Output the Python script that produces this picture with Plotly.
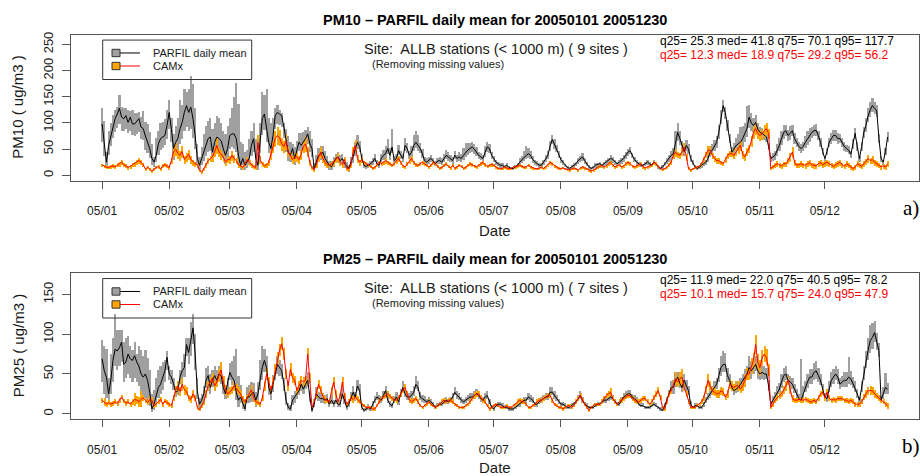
import numpy as np
import pandas as pd
import plotly.graph_objects as go

W, H = 920, 476
START = "2005-01-01"
FONT = "Liberation Sans"

month_ticks = ["2005-%02d-01" % m for m in range(1, 13)]
month_labels = ["05/01", "05/02", "05/03", "05/04", "05/05", "05/06",
                "05/07", "05/08", "05/09", "05/10", "05/11", "05/12"]

# ---------------- PM10 : observed (PARFIL) daily mean --------------------
pm10_obs = [
    98,63,25,57,76,95,108,117,128,111,108,114,101,111,98,98,104,108,92,89,75,63,51,32,25,38,60,70,73,76,95,
    120,89,51,63,70,89,101,120,133,120,130,108,76,32,19,32,44,57,70,73,44,63,73,70,66,51,38,51,
    76,79,79,70,38,19,32,19,25,32,57,70,32,19,63,108,117,89,63,51,76,114,120,117,114,92,63,44,38,51,32,
    47,63,57,63,70,79,60,51,13,25,38,41,44,32,25,19,16,25,32,35,28,32,22,18,13,25,35,50,63,55,
    32,19,17,19,22,25,32,22,19,32,38,41,51,38,54,28,32,47,38,32,57,51,38,44,57,63,57,51,41,28,25,
    28,32,27,22,27,28,25,32,38,35,32,28,38,32,35,32,38,44,48,51,54,50,44,38,35,32,44,54,51,38,
    32,25,22,19,19,16,19,15,13,13,16,19,25,30,35,38,41,38,30,25,22,19,19,25,32,38,55,68,60,51,40,
    30,25,19,15,13,16,19,22,28,32,35,28,22,16,13,15,19,20,22,19,22,25,28,32,30,25,22,25,28,32,38,
    44,47,38,30,25,22,19,19,22,25,22,19,25,22,16,13,16,22,28,32,38,41,60,82,70,55,45,57,50,32,
    25,16,13,15,19,22,25,32,44,48,57,63,82,110,133,120,95,70,44,50,57,60,63,70,80,89,111,100,95,101,88,
    82,80,76,73,55,32,35,38,48,57,70,82,85,76,80,85,70,63,55,51,55,63,70,76,82,85,86,76,63,45,
    32,45,63,70,76,76,70,70,62,55,51,48,40,60,80,55,32,55,82,95,114,125,133,128,123,70,32,25,45,73,
]
# extent of the grey bar above the mean
pm10_obs_up = [
    32,42,20,28,25,22,18,15,27,20,22,16,25,12,27,22,16,14,20,35,28,35,32,28,10,35,25,30,30,32,30,
    25,21,29,32,40,56,34,45,27,45,60,67,54,28,16,23,36,38,35,37,46,37,42,40,34,34,42,44,
    34,51,71,107,100,46,28,26,25,38,28,30,38,26,37,52,38,77,47,49,34,16,15,8,6,8,27,31,27,9,23,
    20,18,25,20,18,15,25,20,12,15,15,15,12,15,12,10,12,10,10,10,12,10,10,8,8,10,12,15,15,12,
    10,6,6,6,6,8,10,8,8,10,12,15,20,15,35,10,10,12,10,10,15,12,10,12,20,22,20,12,10,8,8,
    8,8,6,6,6,8,8,10,12,10,8,8,10,8,10,10,15,18,15,12,10,10,10,8,8,8,12,10,10,8,
    6,6,5,5,5,4,5,4,4,4,5,6,8,8,12,18,12,10,8,6,6,5,5,6,8,10,12,10,10,8,8,
    6,5,4,4,3,4,5,5,6,6,8,6,5,4,3,4,5,5,5,4,5,6,6,8,6,5,5,6,6,8,8,
    8,8,6,5,5,4,4,4,5,5,4,4,5,4,3,3,4,5,6,8,10,12,25,18,15,12,10,12,10,8,
    5,4,3,4,5,6,6,8,10,12,12,12,15,15,12,12,12,10,10,12,15,20,30,25,20,45,25,20,15,15,12,
    12,12,10,10,8,6,8,10,12,15,15,15,12,12,15,12,12,10,10,10,10,12,15,15,12,12,12,10,10,8,
    6,8,10,12,12,12,12,10,10,10,8,8,8,10,12,10,6,10,12,15,15,15,15,12,12,10,6,5,8,10,
]
# extent of the grey bar below the mean
pm10_obs_dn = [
    33,25,10,18,20,22,25,25,30,25,22,25,20,25,20,22,25,25,22,20,25,20,18,12,8,12,20,20,20,18,25,
    30,25,20,20,22,28,30,35,40,35,40,35,25,12,8,12,15,20,25,25,18,20,25,22,20,18,15,18,
    25,25,28,25,18,8,12,8,10,12,20,25,15,8,20,30,30,25,20,18,20,25,22,20,20,20,18,15,12,15,12,
    12,15,15,12,15,18,15,15,5,8,10,10,10,8,8,8,6,8,8,10,8,8,8,6,5,8,10,12,12,10,
    6,4,4,4,5,5,6,5,5,6,8,8,10,8,10,6,6,8,6,6,10,8,6,8,10,10,10,8,8,6,5,
    5,5,4,4,5,5,5,6,6,6,5,5,6,5,6,6,8,8,8,8,8,8,6,6,5,5,8,8,8,6,
    5,4,4,4,4,3,4,3,3,3,4,4,5,5,6,6,8,6,6,5,4,4,4,5,6,6,8,8,8,6,6,
    5,4,3,3,3,3,4,4,5,5,6,5,4,3,3,3,4,4,4,4,4,5,5,6,5,4,4,5,5,6,6,
    6,6,5,4,4,3,3,3,4,4,3,3,4,3,3,3,3,4,5,6,8,8,12,15,12,10,8,10,8,6,
    4,3,3,3,4,4,5,6,8,8,10,10,12,12,12,12,10,8,8,8,10,12,15,15,15,15,20,15,12,12,10,
    10,10,8,8,6,5,6,8,10,10,12,12,10,10,12,10,10,8,8,8,8,10,12,12,10,10,10,8,8,6,
    5,6,8,10,10,10,10,8,8,8,6,6,6,8,10,8,5,8,10,12,12,12,12,10,10,8,5,4,6,8,
]
# ---------------- PM10 : CAMx daily mean and spread ----------------------
pm10_mod = [
    20,18,15,15,17,18,16,20,22,25,20,18,15,17,20,22,25,28,25,20,12,15,12,8,12,15,17,12,18,20,18,
    15,28,45,50,42,38,45,30,35,40,30,25,22,20,10,6,12,20,28,32,35,45,57,45,40,35,25,30,
    30,38,32,28,20,18,15,22,30,25,20,16,15,63,30,22,18,20,25,40,55,70,76,72,60,55,65,45,38,30,35,
    35,30,40,55,60,45,25,15,10,20,35,44,32,25,20,19,22,25,30,35,25,20,30,13,12,20,45,57,32,25,
    30,25,22,20,18,13,15,20,25,22,25,28,25,22,19,22,28,32,25,18,16,22,28,32,25,20,19,22,25,22,19,
    16,19,25,22,18,13,15,19,22,17,14,19,13,16,19,17,13,15,19,22,20,18,16,19,22,25,20,17,19,21,
    19,16,13,12,13,16,14,12,13,16,16,18,19,17,15,16,19,16,14,13,12,13,15,13,16,20,25,22,18,15,13,
    13,14,12,11,10,12,14,12,10,14,16,14,12,10,8,10,13,15,17,19,16,18,22,25,20,16,18,20,16,18,22,
    25,22,18,16,18,20,22,16,14,16,18,20,25,22,18,13,11,13,15,20,25,38,44,40,38,45,54,35,13,10,
    12,15,16,18,22,30,40,48,48,38,32,28,28,25,22,30,38,41,41,38,45,50,57,40,35,45,51,65,82,89,80,
    76,79,85,89,80,13,16,19,22,20,18,22,22,28,35,44,25,19,20,22,20,19,22,24,20,19,18,22,24,20,
    22,25,22,19,17,20,22,25,20,17,22,19,16,13,15,22,20,17,22,26,32,28,30,25,22,19,16,18,16,22,
]
pm10_mod_sp = [
    3,3,3,3,4,4,4,4,5,5,4,4,4,4,4,5,5,6,5,4,3,3,3,3,3,3,4,3,4,4,4,
    4,6,10,12,10,10,12,8,8,10,8,6,5,5,3,3,3,5,6,6,8,10,15,10,10,8,6,6,
    8,10,8,6,5,4,4,5,6,6,5,4,4,15,8,5,4,5,6,10,12,15,18,15,12,12,15,10,8,8,8,
    8,8,10,12,15,10,6,4,3,5,8,10,8,6,5,5,5,6,6,8,6,5,6,4,3,5,10,12,8,6,
    5,4,4,3,3,3,3,4,4,4,4,5,4,4,3,4,5,5,4,3,3,4,5,5,4,4,3,4,4,4,3,
    3,3,4,4,3,3,3,3,4,3,3,3,3,3,3,3,3,3,3,4,4,3,3,3,4,4,4,3,3,4,
    3,3,3,2,2,3,3,2,2,3,3,3,3,3,3,3,3,3,3,2,2,2,3,2,3,3,4,4,3,3,3,
    2,2,2,2,2,2,3,2,2,3,3,3,2,2,2,2,2,3,3,3,3,3,4,4,3,3,3,3,3,3,4,
    4,4,3,3,3,3,4,3,3,3,3,3,4,4,3,2,2,2,3,4,5,6,8,6,6,8,8,6,3,2,
    2,3,3,3,4,5,6,8,8,6,5,5,5,4,4,5,6,6,6,6,8,8,10,8,6,8,8,10,12,12,10,
    10,10,12,12,10,3,4,5,6,5,5,5,5,6,8,10,6,5,5,6,5,6,6,6,5,6,5,6,6,6,
    6,6,6,5,5,6,6,6,5,5,6,5,5,4,5,6,5,5,6,6,8,6,8,6,6,5,5,5,5,6,
]

# ---------------- PM25 : observed (PARFIL) daily mean --------------------
pm25_obs = [
    69,54,46,25,42,67,81,79,83,90,62,65,75,69,67,73,65,60,50,46,50,42,27,6,12,21,33,37,46,54,71,
    50,46,38,27,29,46,54,58,87,77,92,108,75,29,12,17,25,42,48,33,42,48,42,50,48,33,25,37,
    52,46,42,27,17,21,12,6,21,21,25,27,17,25,42,58,67,58,33,25,37,52,62,58,54,37,17,8,6,17,21,
    25,29,37,31,37,42,21,4,12,25,21,19,19,17,19,12,17,12,17,12,12,25,17,8,12,21,27,21,35,29,
    8,4,6,8,6,12,17,21,19,17,23,29,17,12,10,17,21,15,25,33,25,21,21,23,27,37,33,21,19,17,15,
    17,15,12,8,10,12,12,15,17,15,17,21,27,23,21,17,15,17,19,21,21,23,25,23,19,17,21,23,15,8,
    6,10,12,12,10,8,8,6,6,6,8,10,12,15,17,17,21,19,17,12,12,15,17,19,21,21,27,27,23,19,15,
    12,12,10,8,8,10,12,15,19,23,17,12,10,8,8,8,10,12,12,15,17,17,19,21,19,15,12,12,17,21,23,
    25,25,21,19,17,12,10,10,8,8,8,10,12,10,8,6,4,10,17,25,33,33,42,46,38,33,42,35,29,12,
    8,10,10,8,8,12,17,21,25,29,33,37,48,58,62,62,48,42,33,29,31,33,37,42,46,50,58,54,58,62,54,
    50,52,50,50,35,12,17,21,27,31,40,48,50,42,40,37,31,25,19,17,25,33,40,46,46,52,54,48,42,31,
    21,19,33,42,46,50,46,37,40,42,42,46,44,38,33,25,17,33,50,67,80,92,96,102,90,79,17,25,33,31,
]
pm25_obs_up = [
    24,31,36,20,33,28,44,26,22,15,28,30,23,16,13,17,10,25,30,26,30,28,28,19,18,24,22,23,19,14,8,
    10,9,7,8,11,9,11,17,8,18,23,17,25,16,8,8,10,16,12,17,13,12,13,10,10,12,10,8,
    12,20,30,55,30,15,10,8,12,15,15,12,10,15,25,27,15,15,12,10,12,10,10,10,8,8,10,6,5,6,8,
    8,8,10,8,8,10,8,4,6,8,6,6,6,6,6,5,6,5,6,5,5,8,6,4,5,6,8,6,8,8,
    4,3,3,4,3,4,5,6,5,5,6,6,5,4,4,5,6,5,6,8,6,5,5,6,8,10,8,6,5,5,4,
    4,4,3,3,3,3,3,4,4,4,4,5,6,5,5,4,4,4,4,5,5,5,6,5,5,4,5,5,4,3,
    3,3,3,3,3,3,3,2,2,2,3,3,3,4,4,4,5,5,4,3,3,4,4,4,5,5,6,6,5,4,4,
    3,3,3,2,2,3,3,4,4,5,4,3,3,2,2,2,3,3,3,4,4,4,4,5,4,4,3,3,4,5,5,
    5,5,4,4,4,3,3,3,2,2,2,3,3,3,2,2,2,3,4,5,8,10,10,6,8,8,8,8,6,4,
    2,3,3,2,2,3,4,5,6,6,8,8,10,15,17,15,10,8,6,6,6,8,8,8,10,10,15,12,10,10,10,
    10,10,10,8,8,4,5,6,8,8,10,10,10,8,8,8,6,6,6,52,10,8,10,10,10,12,12,10,8,6,
    5,5,8,10,10,10,10,8,8,10,10,25,10,8,8,6,4,8,10,12,15,20,18,15,12,10,5,8,18,8,
]
pm25_obs_dn = [
    29,29,26,10,17,27,21,24,23,25,22,20,25,24,27,28,25,25,25,26,30,27,17,4,7,11,13,12,16,14,16,
    8,8,8,6,6,8,10,12,15,15,20,20,20,10,5,5,6,10,10,8,8,10,8,10,10,8,6,8,
    10,10,10,10,8,8,6,3,8,8,10,10,8,8,12,15,15,12,10,8,10,10,12,10,10,8,6,3,3,6,8,
    6,6,8,6,6,8,6,2,4,6,5,5,5,5,5,4,5,4,5,4,4,6,5,3,4,5,6,5,6,6,
    3,2,2,3,2,3,4,4,4,4,4,4,4,3,3,4,4,4,4,5,4,4,4,4,5,6,5,4,4,4,3,
    3,3,2,2,2,2,2,3,3,3,3,4,4,4,4,3,3,3,3,4,4,4,4,4,4,3,4,4,3,2,
    2,2,2,2,2,2,2,2,2,2,2,2,3,3,3,3,4,4,3,3,3,3,3,3,4,4,4,4,4,3,3,
    2,2,2,2,2,2,2,3,3,4,3,2,2,2,2,2,2,2,2,3,3,3,3,4,3,3,2,2,3,4,4,
    4,4,3,3,3,2,2,2,2,2,2,2,2,2,2,2,1,2,3,4,6,8,8,5,6,6,6,6,5,3,
    2,2,2,2,2,3,3,4,5,5,6,6,8,10,10,10,8,6,5,5,5,6,6,6,8,8,10,10,8,8,10,
    8,8,8,6,6,3,4,5,6,6,8,8,8,6,6,6,5,5,4,4,6,6,8,8,8,10,10,8,6,5,
    4,4,6,8,8,8,8,6,6,8,8,8,8,6,6,5,3,6,8,10,12,15,15,12,10,8,4,6,8,6,
]
# ---------------- PM25 : CAMx daily mean and spread ----------------------
pm25_mod = [
    17,15,12,14,12,13,15,13,17,21,16,13,15,12,15,18,17,15,18,20,17,14,18,17,10,12,15,18,12,16,14,
    12,10,20,30,35,28,37,30,28,20,18,25,20,8,5,10,15,25,35,40,45,35,40,48,55,40,30,25,
    28,30,35,32,28,25,18,15,20,25,30,20,15,14,12,20,35,50,40,30,40,55,70,80,88,75,50,35,56,45,42,
    29,35,42,40,42,75,45,8,15,25,37,30,22,18,17,15,28,40,25,15,22,40,22,12,15,20,18,21,18,15,
    12,10,8,8,8,6,6,10,15,19,21,23,25,22,19,17,17,20,25,30,33,25,17,15,17,19,15,10,8,10,12,
    15,12,10,8,10,12,15,17,15,17,17,15,12,10,8,8,8,10,12,15,19,23,25,25,20,17,15,10,6,8,
    10,12,10,8,8,8,10,8,8,10,12,15,17,15,15,12,8,8,10,12,15,17,17,19,21,23,23,17,12,10,8,
    8,6,8,10,10,8,10,15,19,23,17,12,8,4,8,10,12,12,12,15,19,23,25,27,19,15,12,15,17,19,21,
    23,23,19,17,15,15,17,19,19,15,12,15,20,25,29,20,8,6,15,25,29,38,44,40,44,46,33,25,15,8,
    8,8,10,12,15,20,30,42,35,29,27,25,25,29,27,21,25,37,35,33,35,35,31,35,42,50,50,60,67,87,65,
    58,70,75,71,55,8,12,17,20,23,25,30,35,42,30,19,17,17,18,17,17,18,17,15,15,17,15,20,25,27,
    20,27,20,17,18,17,19,19,19,17,17,15,17,15,12,12,12,15,21,25,29,29,29,25,22,20,17,15,12,10,
]
pm25_mod_sp = [
    3,5,3,3,3,3,3,3,3,3,3,3,3,3,4,8,5,6,10,4,3,3,4,4,3,3,3,3,3,3,3,
    3,3,4,5,6,6,8,6,5,4,4,5,4,3,2,3,4,5,6,6,6,6,6,8,10,8,6,5,
    5,5,6,6,5,5,4,3,4,5,6,5,4,3,3,4,6,8,6,5,6,8,8,8,8,8,6,6,8,6,6,
    5,6,6,6,6,8,6,2,3,5,6,5,4,4,3,3,5,6,5,3,4,6,4,3,3,4,4,4,4,3,
    2,2,2,2,2,2,2,2,3,3,3,3,4,3,3,3,3,3,4,4,5,4,3,3,3,3,3,2,2,2,2,
    3,2,2,2,2,2,3,3,3,3,3,3,2,2,2,2,2,2,2,3,3,4,4,4,3,3,3,2,2,2,
    2,2,2,2,2,2,2,2,2,2,2,3,3,3,3,2,2,2,2,2,3,3,3,3,3,3,3,3,2,2,2,
    2,2,2,2,2,2,2,3,3,3,3,2,2,2,2,2,2,2,2,3,3,3,4,5,3,3,2,3,3,3,3,
    3,3,3,3,3,3,3,3,3,3,2,3,3,4,4,3,2,2,3,4,4,5,8,6,8,10,5,4,3,2,
    2,2,2,2,3,4,5,8,6,5,5,5,5,5,5,4,5,6,6,5,6,6,5,6,8,8,8,10,10,12,10,
    10,10,10,10,8,2,3,3,4,4,4,5,6,6,5,4,3,3,3,3,3,3,3,3,3,3,3,4,4,4,
    4,4,4,3,3,3,3,3,3,3,3,3,3,3,3,3,3,3,4,5,5,6,5,5,4,4,3,3,3,4,
]

titles = ["PM10 \u2013 PARFIL daily mean for 20050101 20051230",
          "PM25 \u2013 PARFIL daily mean for 20050101 20051230"]
ytitles = ["PM10 ( ug/m3 )", "PM25 ( ug/m3 )"]
site_texts = ["Site:\u00a0 ALLB stations (&lt; 1000 m) ( 9 sites )",
              "Site:\u00a0 ALLB stations (&lt; 1000 m) ( 7 sites )"]
obs_quant = ["q25= 25.3 med= 41.8 q75= 70.1 q95= 117.7",
             "q25= 11.9 med= 22.0 q75= 40.5 q95= 78.2"]
mod_quant = ["q25= 12.3 med= 18.9 q75= 29.2 q95= 56.2",
             "q25= 10.1 med= 15.7 q75= 24.0 q95= 47.9"]
panel_tags = ["a)", "b)"]
yticks = [[0, 50, 100, 150, 200, 250], [0, 50, 100, 150]]
legend_names = ["PARFIL daily mean", "CAMx"]

GRAY = "#a0a0a0"
ORANGE = "#ffa500"
RED = "#ff0000"
FRAME = "#555555"
TXT = "#1a1a1a"


def px(x):
    return x / W


def py(y):
    return 1 - y / H


# pixel geometry of the two panels (frame top, frame bottom, y-range)
panels = [
    dict(obs=pm10_obs, up=pm10_obs_up, dn=pm10_obs_dn, mod=pm10_mod, sp=pm10_mod_sp,
         top=31.7, bot=179.0, yr=[-10.8, 269.0], off=0, date_y=229),
    dict(obs=pm25_obs, up=pm25_obs_up, dn=pm25_obs_dn, mod=pm25_mod, sp=pm25_mod_sp,
         top=271.7, bot=419.0, yr=[-7.1, 177.0], off=240, date_y=467.5),
]
FX0, FX1 = 70.7, 919.0

fig = go.Figure()
annotations = []
shapes = []
layout_axes = {}

for i, p in enumerate(panels):
    n = min(len(p["obs"]), len(p["up"]), len(p["dn"]), len(p["mod"]), len(p["sp"]))
    d = pd.date_range(START, periods=n, freq="D")
    obs = np.array(p["obs"][:n], float)
    up = np.array(p["up"][:n], float)
    dn = np.array(p["dn"][:n], float)
    mod = np.array(p["mod"][:n], float)
    sp = np.array(p["sp"][:n], float)
    lo = np.clip(obs - dn, 0, None)
    hi = obs + up
    mlo = np.clip(mod - sp, 0, None)
    mhi = mod + sp
    xa = "x" if i == 0 else "x2"
    ya = "y" if i == 0 else "y2"
    day_ms = 86400000
    fig.add_trace(go.Bar(x=d, y=hi - lo, base=lo, width=0.8 * day_ms,
                         marker=dict(color=GRAY, line_width=0),
                         xaxis=xa, yaxis=ya, showlegend=False, hoverinfo="skip"))
    fig.add_trace(go.Bar(x=d, y=mhi - mlo, base=mlo, width=0.5 * day_ms,
                         marker=dict(color=ORANGE, line_width=0),
                         xaxis=xa, yaxis=ya, showlegend=False, hoverinfo="skip"))
    fig.add_trace(go.Scatter(x=d, y=obs, mode="lines", line=dict(color="black", width=1),
                             xaxis=xa, yaxis=ya, showlegend=False, hoverinfo="skip"))
    fig.add_trace(go.Scatter(x=d, y=mod, mode="lines", line=dict(color=RED, width=1),
                             xaxis=xa, yaxis=ya, showlegend=False, hoverinfo="skip"))

    t0 = pd.Timestamp(START)
    xr = [t0 - pd.Timedelta(days=0.04 * (n - 1)), t0 + pd.Timedelta(days=1.04 * (n - 1))]
    xkey = "xaxis" if i == 0 else "xaxis2"
    ykey = "yaxis" if i == 0 else "yaxis2"
    layout_axes[xkey] = dict(
        domain=[px(FX0), px(FX1)], anchor=ya, range=xr, type="date",
        tickvals=month_ticks, ticktext=month_labels, ticks="outside", ticklen=7,
        tickcolor=FRAME, showline=True, mirror=True, linecolor=FRAME, linewidth=1,
        showgrid=False, zeroline=False, ticklabelstandoff=12,
        tickfont=dict(family=FONT, size=12, color=TXT))
    layout_axes[ykey] = dict(
        domain=[py(p["bot"]), py(p["top"])], anchor=xa, range=p["yr"],
        tickvals=yticks[i], ticktext=[str(v) for v in yticks[i]], tickangle=-90,
        ticks="outside", ticklen=8, tickcolor=FRAME, showline=True, mirror=True,
        linecolor=FRAME, linewidth=1, showgrid=False, zeroline=False, ticklabelstandoff=4,
        tickfont=dict(family=FONT, size=13, color=TXT))

    o = p["off"]
    cx = (FX0 + FX1) / 2
    annotations += [
        dict(text="<b>%s</b>" % titles[i], x=px(cx), y=py(o + 17.5), xref="paper", yref="paper",
             xanchor="center", yanchor="middle", showarrow=False,
             font=dict(family=FONT, size=14.5, color="black")),
        dict(text=ytitles[i], x=px(18), y=py((p["top"] + p["bot"]) / 2), xref="paper", yref="paper",
             xanchor="center", yanchor="middle", showarrow=False, textangle=-90,
             font=dict(family=FONT, size=15, color=TXT)),
        dict(text="Date", x=px(cx), y=py(p["date_y"]), xref="paper", yref="paper",
             xanchor="center", yanchor="middle", showarrow=False,
             font=dict(family=FONT, size=15, color=TXT)),
        dict(text=panel_tags[i], x=px(911), y=py(o + 206), xref="paper", yref="paper",
             xanchor="center", yanchor="middle", showarrow=False,
             font=dict(family="Liberation Serif", size=21, color="black")),
        dict(text=site_texts[i], x=px(496), y=py(o + 46.5), xref="paper", yref="paper",
             xanchor="center", yanchor="middle", showarrow=False,
             font=dict(family=FONT, size=14.5, color=TXT)),
        dict(text="(Removing missing values)", x=px(437.5), y=py(o + 61.5), xref="paper", yref="paper",
             xanchor="center", yanchor="middle", showarrow=False,
             font=dict(family=FONT, size=11, color=TXT)),
        dict(text=obs_quant[i], x=px(658), y=py(o + 38.5), xref="paper", yref="paper",
             xanchor="left", yanchor="middle", showarrow=False,
             font=dict(family=FONT, size=12, color="black")),
        dict(text=mod_quant[i], x=px(658), y=py(o + 52.8), xref="paper", yref="paper",
             xanchor="left", yanchor="middle", showarrow=False,
             font=dict(family=FONT, size=12, color=RED)),
    ]
    # legend drawn by hand (R style)
    ly = [o + 50.3, o + 63.4]
    shapes.append(dict(type="rect", xref="paper", yref="paper", x0=px(102.7), x1=px(251.7),
                       y0=py(o + 37.3), y1=py(o + 77.0), line=dict(color="#333333", width=1),
                       layer="above"))
    for k, (fill, lc) in enumerate([(GRAY, "black"), (ORANGE, RED)]):
        shapes.append(dict(type="line", xref="paper", yref="paper", x0=px(112), x1=px(140),
                           y0=py(ly[k]), y1=py(ly[k]), line=dict(color=lc, width=1), layer="above"))
        shapes.append(dict(type="rect", xref="paper", yref="paper", x0=px(112), x1=px(120),
                           y0=py(ly[k] - 3.7), y1=py(ly[k] + 3.7), fillcolor=fill,
                           line=dict(color="#333333", width=1), layer="above"))
        annotations.append(dict(text=legend_names[k], x=px(150.5), y=py(ly[k]), xref="paper",
                                yref="paper", xanchor="left", yanchor="middle", showarrow=False,
                                font=dict(family=FONT, size=11, color=TXT)))

fig.update_layout(
    width=W, height=H, margin=dict(l=0, r=0, t=0, b=0),
    paper_bgcolor="white", plot_bgcolor="white", barmode="overlay", bargap=0,
    showlegend=False, annotations=annotations, shapes=shapes,
    font=dict(family=FONT), **layout_axes)

fig.write_html("out.html")
